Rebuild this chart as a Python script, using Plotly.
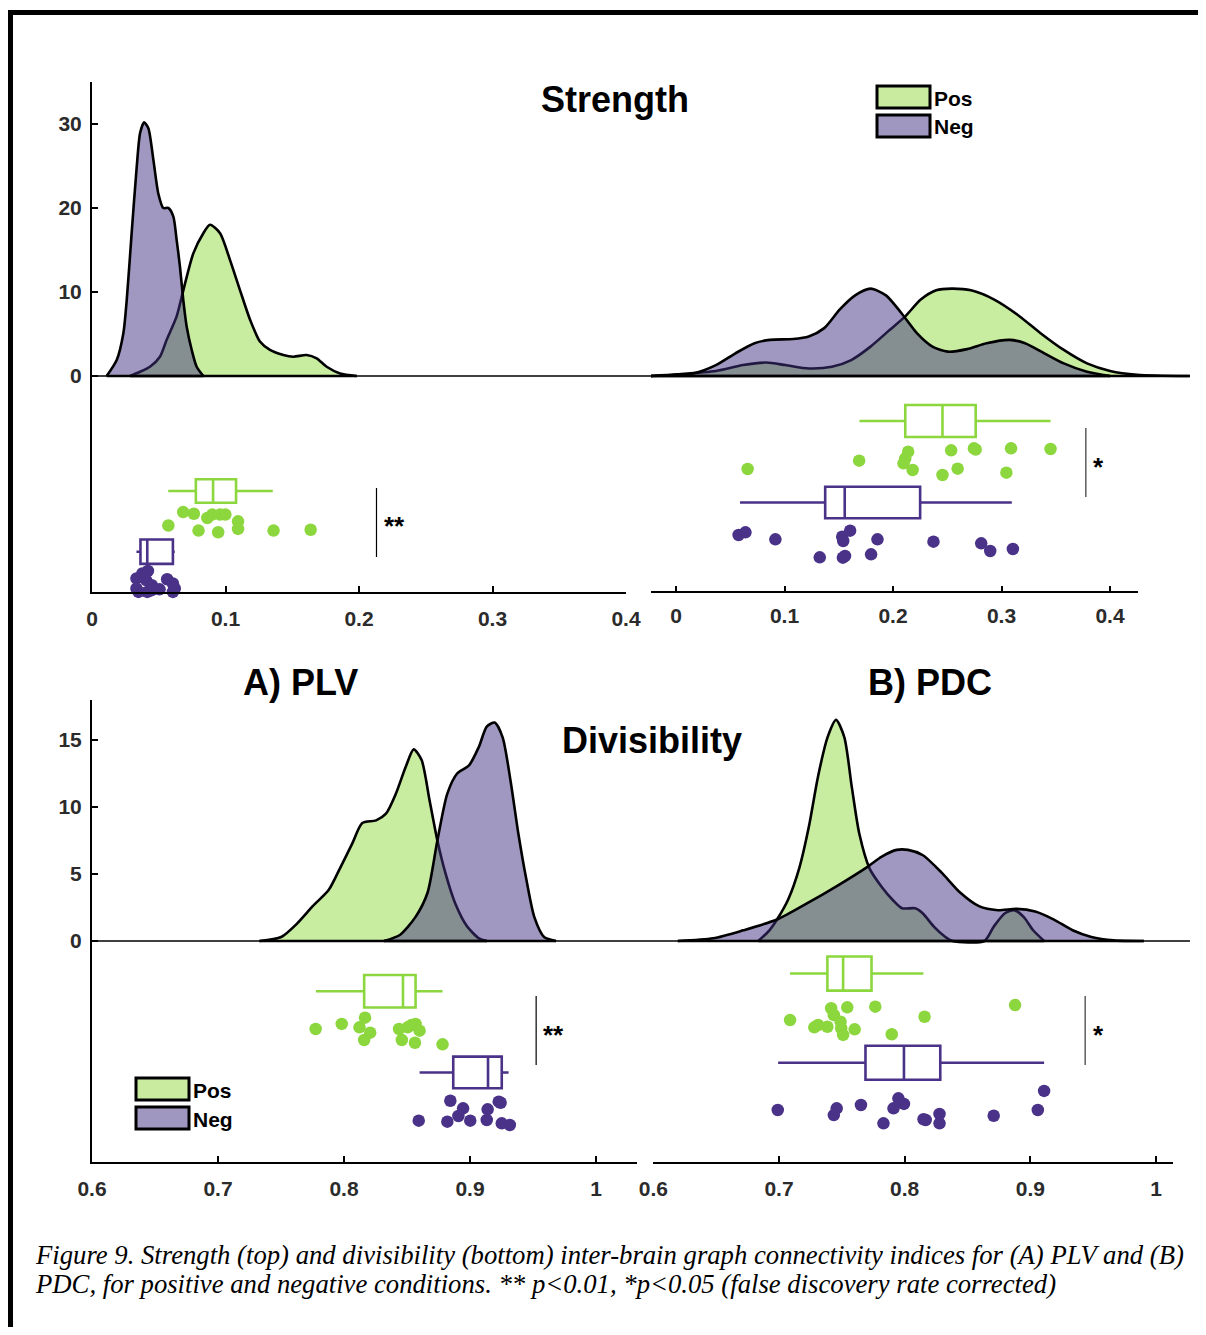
import plotly.graph_objects as go

# page layout: the browser keeps an 8 px body margin, so the figure is 16 px smaller than the window
OFF = 8
FW, FH = 1206 - 2 * OFF, 1335 - 2 * OFF

# ======================= DATA =======================
# ---- Strength, PLV (top-left) : kernel densities ----
str_plv_pos_dx = [0.0285, 0.036, 0.0434, 0.0509, 0.0559, 0.0634, 0.0684, 0.0759, 0.0834, 0.0884, 0.0959, 0.1034,
                  0.1109, 0.1184, 0.1258, 0.1333, 0.1433, 0.1508, 0.1608, 0.1683, 0.1758, 0.1858, 0.1983]
str_plv_pos_dy = [0, 0.5, 1.1, 2.3, 4.3, 7.1, 10.2, 14.6, 17.0, 18.0, 17.0, 13.8,
                  10.2, 6.7, 4.1, 3.1, 2.5, 2.3, 2.5, 2.1, 1.1, 0.3, 0]
str_plv_neg_dx = [0.011, 0.0185, 0.0235, 0.026, 0.0297, 0.0335, 0.036, 0.039, 0.0422, 0.046, 0.0497, 0.0534,
                  0.0572, 0.0609, 0.0634, 0.0659, 0.0684, 0.0709, 0.0747, 0.0784, 0.0834]
str_plv_neg_dy = [0, 1.9, 5.1, 9.0, 17.0, 24.9, 28.9, 30.2, 29.5, 25.7, 21.7, 20.0,
                  20.0, 19.0, 16.2, 13.0, 9.0, 5.9, 3.1, 1.1, 0]
# individual subjects (value, jitter)
str_plv_pos_x = [0.0572, 0.0683, 0.0763, 0.0798, 0.0864, 0.0901, 0.0945, 0.0959, 0.0999, 0.1094, 0.1094, 0.136, 0.1638]
str_plv_pos_j = [-17.8, -16.2, -16.4, -18.4, -16.9, -16.5, -18.6, -16.5, -16.5, -17.3, -18.2, -18.4, -18.3]
str_plv_neg_x = [0.0419, 0.0377, 0.0333, 0.0405, 0.0448, 0.0506, 0.0333, 0.0348, 0.0414, 0.0563, 0.0606, 0.062, 0.0606, 0.0448]
str_plv_neg_j = [-23.2, -23.5, -24.1, -24.3, -24.9, -25.4, -25.3, -25.7, -25.7, -24.2, -24.7, -25.3, -25.7, -25.5]
# box statistics [lowerfence, q1, median, q3, upperfence]
str_plv_pos_box = [0.0571, 0.0778, 0.0907, 0.1079, 0.1354]
str_plv_neg_box = [0.0333, 0.0363, 0.0414, 0.0606, 0.062]

# ---- Strength, PDC (top-right) ----
str_pdc_pos_dx = [-0.0238, 0.001, 0.0368, 0.0618, 0.0831, 0.1009, 0.1223, 0.1437, 0.1615, 0.1793, 0.1971, 0.2113,
                  0.2256, 0.2398, 0.2541, 0.2719, 0.2933, 0.3147, 0.336, 0.3574, 0.3788, 0.4001, 0.425, 0.4735]
str_pdc_pos_dy = [0, 0.2, 0.6, 1.3, 1.6, 1.3, 0.9, 1.1, 1.9, 3.5, 5.5, 7.1,
                  9.1, 10.2, 10.4, 10.2, 9.1, 7.3, 5.1, 3.1, 1.5, 0.6, 0.15, 0]
str_pdc_neg_dx = [-0.0238, 0.0155, 0.0368, 0.0547, 0.0724, 0.0866, 0.108, 0.1223, 0.1366, 0.1508, 0.1651, 0.1793,
                  0.1935, 0.2077, 0.222, 0.2363, 0.2505, 0.2683, 0.2862, 0.3075, 0.3217, 0.3395, 0.3574, 0.3788, 0.4001]
str_pdc_neg_dy = [0, 0.3, 1.3, 2.7, 3.9, 4.3, 4.4, 4.7, 5.7, 7.9, 9.6, 10.4,
                  9.6, 7.5, 5.1, 3.5, 2.9, 3.2, 3.9, 4.3, 3.9, 2.7, 1.5, 0.5, 0]
str_pdc_pos_x = [0.066, 0.1688, 0.214, 0.2113, 0.2097, 0.2181, 0.2456, 0.2536, 0.2596, 0.2746, 0.2762, 0.3088, 0.3045, 0.3452]
str_pdc_pos_j = [-11.07, -10.08, -9.01, -9.80, -10.40, -11.19, -11.79, -8.85, -11.03, -8.61, -8.75, -8.61, -11.51, -8.69]
str_pdc_neg_x = [0.0577, 0.064, 0.0916, 0.1532, 0.1541, 0.1605, 0.1857, 0.1325, 0.1538, 0.1558, 0.1798, 0.2373, 0.2813, 0.2896, 0.3105]
str_pdc_neg_j = [-18.93, -18.61, -19.44, -19.13, -19.64, -18.41, -19.44, -21.59, -21.63, -21.43, -21.23, -19.72, -19.92, -20.83, -20.60]
str_pdc_pos_box = [0.1691, 0.2113, 0.2456, 0.2762, 0.3452]
str_pdc_neg_box = [0.059, 0.1375, 0.1555, 0.2250, 0.3095]

# ---- Divisibility, PLV (bottom-left) ----
div_plv_pos_dx = [0.7329, 0.7502, 0.7627, 0.7752, 0.7878, 0.7972, 0.8067, 0.8145, 0.8255, 0.8333, 0.8412, 0.849,
                  0.8553, 0.8616, 0.8679, 0.8741, 0.8804, 0.8883, 0.8976, 0.9071, 0.9133]
div_plv_pos_dy = [0, 0.3, 1.3, 2.6, 3.8, 5.5, 7.3, 8.8, 9.0, 9.5, 11.0, 13.0,
                  14.3, 13.5, 10.5, 7.5, 5.1, 2.8, 1.1, 0.2, 0]
div_plv_neg_dx = [0.8317, 0.8443, 0.8568, 0.8663, 0.8741, 0.882, 0.8898, 0.8992, 0.9071, 0.9133, 0.9196, 0.9259,
                  0.9321, 0.9384, 0.9447, 0.951, 0.9588, 0.9683]
div_plv_neg_dy = [0, 0.45, 1.8, 3.6, 7.5, 11.0, 12.5, 13.1, 14.5, 16.0, 16.3, 15.2,
                  12.0, 8.0, 4.6, 1.8, 0.3, 0]
div_plv_pos_x = [0.7775, 0.7982, 0.8123, 0.8167, 0.8208, 0.816, 0.8437, 0.8459, 0.8537, 0.8568, 0.86, 0.8563, 0.8782, 0.8505]
div_plv_pos_j = [-6.57, -6.19, -6.44, -5.72, -6.84, -7.39, -6.57, -7.39, -6.27, -6.19, -6.69, -7.59, -7.71, -6.44]
div_plv_neg_x = [0.8593, 0.882, 0.8844, 0.8908, 0.8945, 0.9002, 0.914, 0.9133, 0.9228, 0.9252, 0.9316, 0.9243]
div_plv_neg_j = [-13.41, -13.48, -11.92, -13.06, -12.49, -13.41, -12.56, -13.36, -11.99, -13.61, -13.73, -12.07]
div_plv_pos_box = [0.7778, 0.816, 0.8468, 0.8568, 0.8782]
div_plv_neg_box = [0.86, 0.8867, 0.9143, 0.9252, 0.9306]

# ---- Divisibility, PDC (bottom-right) ----
div_pdc_pos_dx = [0.6835, 0.6924, 0.6984, 0.7073, 0.7163, 0.7237, 0.7311, 0.7386, 0.7454, 0.752, 0.7579, 0.7639,
                  0.7721, 0.7816, 0.7905, 0.7979, 0.8083, 0.8143, 0.8232, 0.8321, 0.8381, 0.8633, 0.8708, 0.8797,
                  0.8871, 0.8946, 0.902, 0.9109]
div_pdc_pos_dy = [0, 0.8, 1.6, 3.1, 5.5, 8.5, 12.3, 15.2, 16.5, 15.2, 11.5, 8.0,
                  5.4, 4.05, 3.06, 2.44, 2.44, 2.07, 1.07, 0.32, 0, 0, 1.07, 2.07,
                  2.3, 1.8, 0.82, 0]
div_pdc_neg_dx = [0.6195, 0.6477, 0.6716, 0.6984, 0.7222, 0.746, 0.7698, 0.7818, 0.7936, 0.8026, 0.8145, 0.8294,
                  0.8443, 0.8591, 0.874, 0.8889, 0.9038, 0.9187, 0.9336, 0.9485, 0.9664, 0.9902]
div_pdc_neg_dy = [0, 0.2, 0.8, 1.6, 2.8, 4.1, 5.5, 6.3, 6.8, 6.8, 6.4, 5.1,
                  3.6, 2.6, 2.3, 2.4, 2.2, 1.6, 0.8, 0.3, 0.05, 0]
div_pdc_pos_x = [0.7088, 0.7415, 0.7543, 0.7766, 0.8158, 0.8878, 0.7311, 0.7385, 0.7436, 0.749, 0.7495, 0.751, 0.7602, 0.7897, 0.7281]
div_pdc_pos_j = [-5.90, -5.02, -4.95, -4.90, -5.65, -4.78, -6.27, -6.40, -5.52, -6.02, -6.51, -7.01, -6.59, -6.96, -6.44]
div_pdc_neg_x = [0.699, 0.7459, 0.7436, 0.7652, 0.795, 0.7994, 0.7911, 0.7831, 0.8167, 0.8277, 0.8277, 0.8708, 0.9059, 0.9109, 0.815]
div_pdc_neg_j = [-12.61, -12.49, -12.99, -12.24, -11.74, -12.16, -12.49, -13.61, -13.36, -12.91, -13.61, -13.04, -12.61, -11.19, -13.3]
div_pdc_pos_box = [0.7088, 0.7385, 0.751, 0.7736, 0.8149]
div_pdc_neg_box = [0.6993, 0.7688, 0.7994, 0.8283, 0.9109]

strength_ticks_x = [0, 0.1, 0.2, 0.3, 0.4]
strength_ticks_y = [0, 10, 20, 30]
divis_ticks_x = [0.6, 0.7, 0.8, 0.9, 1]
divis_ticks_y = [0, 5, 10, 15]
stars = ["**", "*", "**", "*"]

# ======================= STYLE =======================
POS_FILL = "rgba(145,217,65,0.5)"
NEG_FILL = "rgba(65,49,129,0.5)"
POS_C = "#8CD63E"
NEG_C = "#4A3288"
LEG_POS = "rgb(200,235,160)"
LEG_NEG = "rgb(160,151,192)"
TICKFONT = dict(family="Liberation Sans, Arial, sans-serif", size=21, color="#2b2b2b", weight="bold")


def fx(px):  # window pixel -> paper x
    return (px - OFF) / FW


def fy(py):  # window pixel -> paper y
    return 1 - (py - OFF) / FH


def xd(a, b):
    return [fx(a), fx(b)]


def yd(top, bottom):
    return [fy(bottom), fy(top)]


fig = go.Figure()

panels = [
    dict(ax="x", ay="y", pd=(str_plv_pos_dx, str_plv_pos_dy), nd=(str_plv_neg_dx, str_plv_neg_dy),
         pp=(str_plv_pos_x, str_plv_pos_j), npt=(str_plv_neg_x, str_plv_neg_j),
         pb=str_plv_pos_box, nb=str_plv_neg_box, pc=(-13.69, 2.8), nc=(-20.92, 2.9),
         bar=(0.2131, -13.33, -21.55), star=(0.2175, -17.3), bw="black", bwid=1.2),
    dict(ax="x2", ay="y2", pd=(str_pdc_pos_dx, str_pdc_pos_dy), nd=(str_pdc_neg_dx, str_pdc_neg_dy),
         pp=(str_pdc_pos_x, str_pdc_pos_j), npt=(str_pdc_neg_x, str_pdc_neg_j),
         pb=str_pdc_pos_box, nb=str_pdc_neg_box, pc=(-5.36, 3.8), nc=(-15.06, 3.76),
         bar=(0.3777, -6.19, -14.4), star=(0.3825, -10.24), bw="#666666", bwid=1.6),
    dict(ax="x3", ay="y3", pd=(div_plv_pos_dx, div_plv_pos_dy), nd=(div_plv_neg_dx, div_plv_neg_dy),
         pp=(div_plv_pos_x, div_plv_pos_j), npt=(div_plv_neg_x, div_plv_neg_j),
         pb=div_plv_pos_box, nb=div_plv_neg_box, pc=(-3.75, 2.42), nc=(-9.81, 2.36),
         bar=(0.9525, -4.10, -9.25), star=(0.9565, -6.64), bw="black", bwid=1.2),
    dict(ax="x4", ay="y4", pd=(div_pdc_pos_dx, div_pdc_pos_dy), nd=(div_pdc_neg_dx, div_pdc_neg_dy),
         pp=(div_pdc_pos_x, div_pdc_pos_j), npt=(div_pdc_neg_x, div_pdc_neg_j),
         pb=div_pdc_pos_box, nb=div_pdc_neg_box, pc=(-2.43, 2.54), nc=(-9.09, 2.54),
         bar=(0.9436, -4.10, -9.25), star=(0.9482, -6.64), bw="#666666", bwid=1.6),
]

shapes = []
annotations = []

for i, p in enumerate(panels):
    ax, ay = p["ax"], p["ay"]
    # densities (Pos below, Neg above, semi-transparent)
    for (dx, dy), fc in ((p["pd"], POS_FILL), (p["nd"], NEG_FILL)):
        fig.add_trace(go.Scatter(
            x=dx, y=dy, xaxis=ax, yaxis=ay,
            mode="lines", fill="tozeroy", fillcolor=fc,
            line=dict(color="black", width=2.6, shape="spline", smoothing=0.7),
            showlegend=False, hoverinfo="skip"))
        # thick base of the density outline
        fig.add_trace(go.Scatter(
            x=[min(dx), max(dx)], y=[0, 0], xaxis=ax, yaxis=ay, mode="lines",
            line=dict(color="black", width=2.6), showlegend=False, hoverinfo="skip"))
    # boxes
    for stats, (cy, bwid), col in ((p["pb"], p["pc"], POS_C), (p["nb"], p["nc"], NEG_C)):
        fig.add_trace(go.Box(
            orientation="h", y=[cy], lowerfence=[stats[0]], q1=[stats[1]], median=[stats[2]],
            q3=[stats[3]], upperfence=[stats[4]], width=bwid, whiskerwidth=0,
            fillcolor="rgba(255,255,255,0)", line=dict(color=col, width=2.6),
            boxpoints=False, xaxis=ax, yaxis=ay, showlegend=False, hoverinfo="skip"))
    # points
    for (px, pj), col in ((p["pp"], POS_C), (p["npt"], NEG_C)):
        fig.add_trace(go.Scatter(
            x=px, y=pj, xaxis=ax, yaxis=ay, mode="markers",
            marker=dict(color=col, size=12.5, line=dict(width=0)),
            cliponaxis=False, showlegend=False, hoverinfo="skip"))
    # significance bar + stars
    bx, by0, by1 = p["bar"]
    shapes.append(dict(type="line", xref=ax, yref=ay, x0=bx, x1=bx, y0=by0, y1=by1,
                       line=dict(color=p["bw"], width=p["bwid"])))
    sx, sy = p["star"]
    annotations.append(dict(xref=ax, yref=ay, x=sx, y=sy, text=stars[i], showarrow=False,
                            xanchor="left", yanchor="middle", yshift=-5,
                            font=dict(family="Liberation Sans, Arial", size=26, color="black", weight="bold")))

# ---- axes ----
common_x = dict(showgrid=False, zeroline=False, ticks="inside", ticklen=6, tickwidth=1.5, tickcolor="black",
                tickfont=TICKFONT, ticklabelstandoff=7, fixedrange=True, automargin=False)
common_y = dict(showgrid=False, zeroline=False, ticks="inside", ticklen=6, tickwidth=1.5, tickcolor="black",
                tickfont=TICKFONT, ticklabelstandoff=4, fixedrange=True, automargin=False)

top_rng = [(376 - 592) / 8.4, (376 - 82) / 8.4]
bot_rng = [(941 - 1162) / 13.4, (941 - 700) / 13.4]

x2_common = dict(common_x)
x2_common["ticklabelstandoff"] = 9

fig.update_layout(
    xaxis=dict(domain=xd(92, 626), range=[0, 534 / 1335], anchor="y", tickvals=strength_ticks_x,
               showline=True, linewidth=2, linecolor="black", **common_x),
    yaxis=dict(domain=yd(82, 592), range=top_rng, anchor="x", tickvals=strength_ticks_y,
               showline=True, linewidth=2, linecolor="black", **common_y),
    xaxis2=dict(domain=xd(651, 1190), range=[(651 - 676) / 1085, (1190 - 676) / 1085], anchor="y2",
                tickvals=strength_ticks_x, showline=False, **x2_common),
    yaxis2=dict(domain=yd(82, 592), range=top_rng, anchor="x2", visible=False, fixedrange=True,
                automargin=False),
    xaxis3=dict(domain=xd(92, 637), range=[0.6, 0.6 + 545 / 1260], anchor="y3", tickvals=divis_ticks_x,
                showline=True, linewidth=2, linecolor="black", **common_x),
    yaxis3=dict(domain=yd(700, 1162), range=bot_rng, anchor="x3", tickvals=divis_ticks_y,
                showline=True, linewidth=2, linecolor="black", **common_y),
    xaxis4=dict(domain=xd(653, 1173), range=[0.6 + (653 - 653.3) / 1257, 0.6 + (1173 - 653.3) / 1257],
                anchor="y4", tickvals=divis_ticks_x, showline=True, linewidth=2, linecolor="black", **common_x),
    yaxis4=dict(domain=yd(700, 1162), range=bot_rng, anchor="x4", visible=False, fixedrange=True,
                automargin=False),
)

# zero lines across both panels of a row, top-right axis line
shapes.append(dict(type="line", xref="paper", yref="y", x0=fx(92), x1=fx(1190), y0=0, y1=0,
                   line=dict(color="black", width=1.3)))
shapes.append(dict(type="line", xref="paper", yref="y3", x0=fx(92), x1=fx(1190), y0=0, y1=0,
                   line=dict(color="black", width=1.3)))
shapes.append(dict(type="line", xref="paper", yref="paper", x0=fx(651), x1=fx(1138),
                   y0=fy(592), y1=fy(592), line=dict(color="black", width=2)))

# figure frame (thick top and left edges)
shapes.append(dict(type="line", xref="paper", yref="paper", x0=fx(8), x1=1, y0=fy(12.5), y1=fy(12.5),
                   line=dict(color="black", width=5)))
shapes.append(dict(type="line", xref="paper", yref="paper", x0=fx(10.5), x1=fx(10.5), y0=0, y1=fy(10),
                   line=dict(color="black", width=5)))

# legends
for (lx, ly) in ((877, 86), (136, 1078)):
    for k, (lab, fc) in enumerate((("Pos", LEG_POS), ("Neg", LEG_NEG))):
        top = ly + k * 29
        shapes.append(dict(type="rect", xref="paper", yref="paper", x0=fx(lx), x1=fx(lx + 53),
                           y0=fy(top + 22), y1=fy(top), fillcolor=fc,
                           line=dict(color="black", width=3)))
        annotations.append(dict(xref="paper", yref="paper", x=fx(lx + 55), y=fy(top + 12),
                                text=lab, showarrow=False, xanchor="left", yanchor="middle",
                                font=dict(family="Liberation Sans, Arial", size=21, color="black",
                                          weight="bold")))

# titles
for txt, cx, cy in (("Strength", 615, 100), ("A) PLV", 300, 683), ("B) PDC", 930, 683),
                    ("Divisibility", 652, 740)):
    annotations.append(dict(xref="paper", yref="paper", x=fx(cx), y=fy(cy), text=txt, showarrow=False,
                            xanchor="center", yanchor="middle",
                            font=dict(family="Liberation Sans, Arial", size=36, color="black", weight="bold")))

# caption
caption = ["Figure 9. Strength (top) and divisibility (bottom) inter-brain graph connectivity indices for (A) PLV and (B)",
           "PDC, for positive and negative conditions. ** p<0.01, *p<0.05 (false discovery rate corrected)"]
for k, line in enumerate(caption):
    annotations.append(dict(xref="paper", yref="paper", x=fx(33), y=fy(1255 + 29 * k),
                            text="<i>" + line + "</i>", showarrow=False, xanchor="left", yanchor="middle",
                            font=dict(family="Liberation Serif, Times New Roman, serif", size=26.7,
                                      color="black")))

fig.update_layout(
    width=FW, height=FH, margin=dict(l=0, r=0, t=0, b=0, pad=0, autoexpand=False),
    paper_bgcolor="white", plot_bgcolor="rgba(0,0,0,0)",
    shapes=shapes, annotations=annotations, showlegend=False, boxmode="overlay",
)

fig.write_html("out.html", config={"displayModeBar": False})
